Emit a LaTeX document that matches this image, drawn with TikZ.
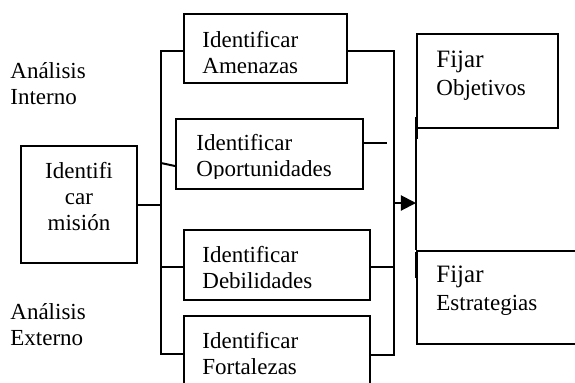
\documentclass[tikz,border=0pt]{standalone}
\usepackage{fontspec}
\setmainfont{Liberation Serif}
\usetikzlibrary{arrows.meta,fit}
\newcommand{\fijarfont}{\fontsize{12.5}{13}\selectfont}

\begin{document}
\begin{tikzpicture}[x=0.5pt,y=-0.5pt,
    box/.style={draw,line width=1pt,inner sep=0pt},
    wire/.style={line width=1pt},
    lbl/.style={anchor=north west,align=left,inner sep=0pt,font=\fontsize{11.5}{13}\selectfont}]

\useasboundingbox (0,0) rectangle (575,382);
\clip (0,0) rectangle (575,382);

\node[box,fit={(21,146) (137,263)}] (mis) {}; % mision
\node[box,fit={(184,14) (347,83)}] (amen) {}; % amenazas
\node[box,fit={(176,119) (363,189)}] (opor) {}; % oportunidades
\node[box,fit={(184,230) (370,300)}] (debil) {}; % debilidades
\node[box,fit={(184,316) (370,400)}] (fort) {}; % fortalezas
\node[box,fit={(417,34) (558,128)}] (obj) {}; % objetivos
\node[box,fit={(417,251) (600,344)}] (estr) {}; % estrategias

\node[lbl] (intT) at (10,62) {Análisis\\Interno};
\node[lbl] (extT) at (10,303) {Análisis\\Externo};
\node[lbl,anchor=north,align=center] (misT) at (79,162) {Identifi\\car\\misión};
\node[lbl] (amenT) at ([shift={(19,17.5)}]amen.north west) {Identificar\\Amenazas};
\begin{scope}
\clip (176,119) rectangle (363,178.5);
\node[lbl] (oporT) at ([shift={(21,16)}]opor.north west) {Identificar\\Oportunidades};
\end{scope}
\node[lbl] (debilT) at ([shift={(19,16.5)}]debil.north west) {Identificar\\Debilidades};
\node[lbl] (fortT) at ([shift={(19,17)}]fort.north west) {Identificar\\Fortalezas};
\node[lbl] (objT) at ([shift={(20,18)}]obj.north west) {{\fijarfont Fijar}\\[1pt]Objetivos};
\node[lbl] (estrT) at ([shift={(20,16)}]estr.north west) {{\fijarfont Fijar}\\[1pt]Estrategias};

\coordinate (lt) at (161,51);
\coordinate (lb) at (161,354);
\coordinate (rt) at (394,51);
\coordinate (rb) at (394,355);
\coordinate (opl) at (161,163);
\coordinate (opr) at (387,143);
\coordinate (ar) at (394,203);

\draw[wire] (amen.west |- lt) -- (lt) -- (lb) -- (fort.west |- lb); % left bracket
\draw[wire] (mis.east) -- (mis.east -| lt);
\draw[wire] (opl) -- (opor.west |- 0,166);
\draw[wire] (debil.west |- 0,267) -- (lt |- 0,267);
\draw[wire] (amen.east |- rt) -- (rt) -- (rb) -- (fort.east |- rb); % right bracket
\draw[wire] (opor.east |- opr) -- (opr);
\draw[wire] (debil.east |- 0,267) -- (rt |- 0,267);
\draw[wire,-{Triangle[length=7.5pt,width=7.5pt]}] (ar) -- (obj.west |- ar);
\draw[wire] (obj.south west) -- (estr.north west);
\draw[line width=1.5pt] (417,117) -- (417,139);
\draw[line width=1.5pt] (417,252) -- (417,278);
\end{tikzpicture}
\end{document}
